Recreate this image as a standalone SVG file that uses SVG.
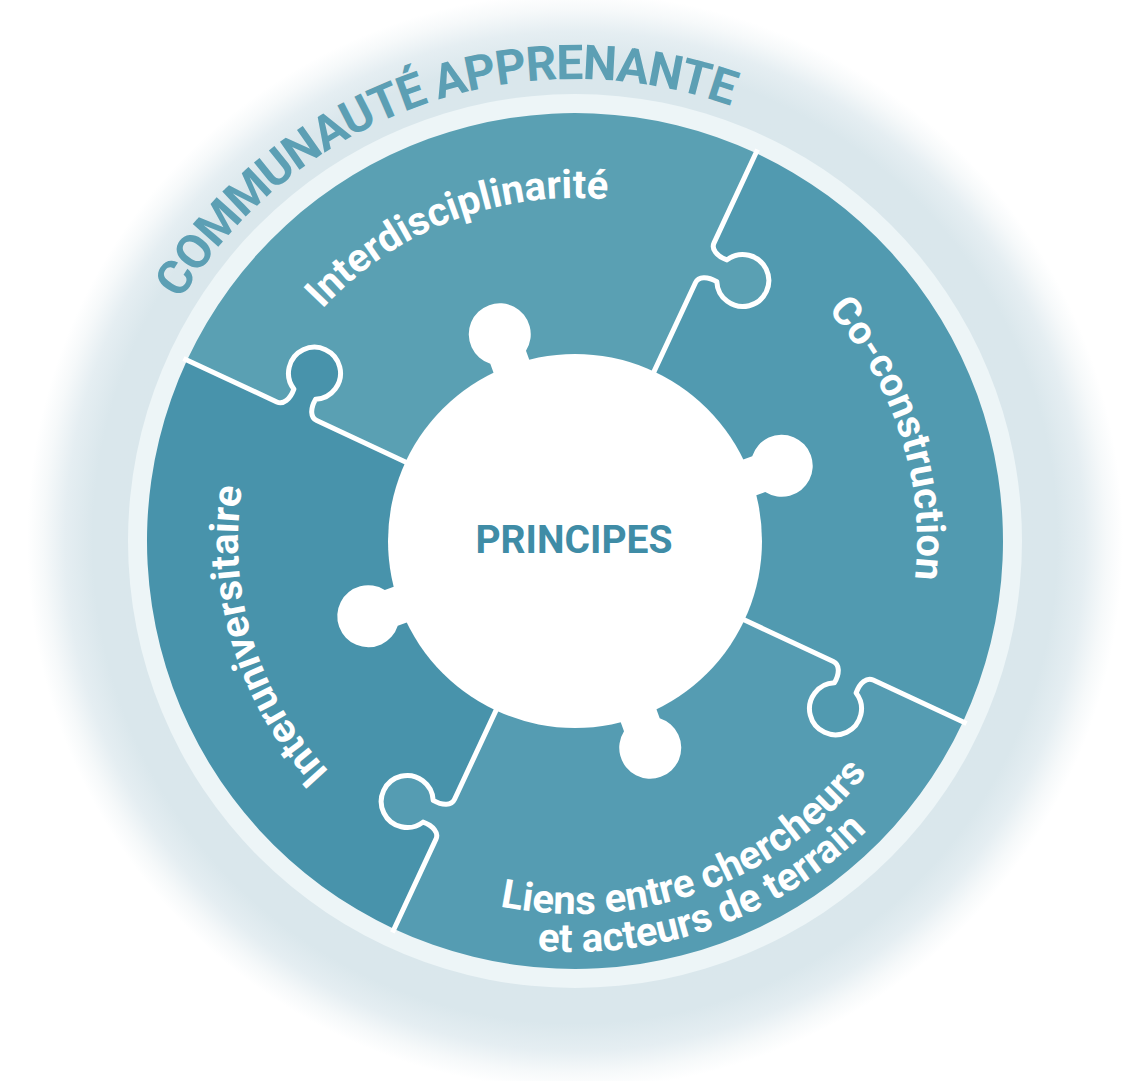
<svg xmlns="http://www.w3.org/2000/svg" width="1145" height="1081" viewBox="0 0 1145 1081">
<defs>
<style>
.lbl{font-family:Roboto,"Liberation Sans",sans-serif;font-weight:700;font-size:40px;fill:#ffffff}
.ring{font-family:Roboto,"Liberation Sans",sans-serif;font-weight:700;font-size:48px;fill:#5c9fb4;letter-spacing:-1.2px}
.div{fill:none;stroke:#ffffff;stroke-width:5;stroke-linejoin:round}
</style>
<radialGradient id="glow" gradientUnits="userSpaceOnUse" cx="575" cy="541" r="548">
<stop offset="0" stop-color="#d9e7ec"/>
<stop offset="0.88" stop-color="#dae7ec"/>
<stop offset="0.93" stop-color="#e5eef2"/>
<stop offset="0.97" stop-color="#f6f9fa"/>
<stop offset="1" stop-color="#ffffff"/>
</radialGradient>
<path id="piece" d="M0,0 L185,0 H285 C292,0 296,8 295,18.9 A26,26 0 1 0 319,18.9 C318,8 322,0 329,0 H428 A428,428 0 0 1 0,428 L0,329 C0,322 -8,318 -18.9,319 A26,26 0 1 1 -18.9,295 C-8,296 0,292 0,285 L0,0 Z"/>
<path id="divider" d="M180,0 H285 C292,0 296,8 295,18.9 A26,26 0 1 0 319,18.9 C318,8 322,0 329,0 H432"/>
<path id="knob" d="M175,-19 L195.5,-19 A31,31 0 1 1 195.5,19 L175,19 Z"/>
<path id="cw343" d="M232,541 A343,343 0 1 1 918,541 A343,343 0 1 1 232,541"/>
<path id="cw342" d="M233,541 A342,342 0 1 1 917,541 A342,342 0 1 1 233,541"/>
<path id="cw337" d="M238,541 A337,337 0 1 1 912,541 A337,337 0 1 1 238,541"/>
<path id="cw462" d="M113,541 A462,462 0 1 1 1037,541 A462,462 0 1 1 113,541"/>
<path id="ccw373" d="M948,541 A373,373 0 1 0 202,541 A373,373 0 1 0 948,541"/>
<path id="ccw411" d="M986,541 A411,411 0 1 0 164,541 A411,411 0 1 0 986,541"/>
</defs>
<rect width="1145" height="1081" fill="#ffffff"/>
<g id="node-communaute">
<circle cx="575" cy="541" r="548" fill="url(#glow)"/>
<circle cx="575" cy="541" r="447" fill="#edf5f7"/>
<text class="ring" transform="rotate(250.5 575 541)"><textPath href="#cw462" startOffset="50%" text-anchor="middle">COMMUNAUTÉ APPRENANTE</textPath></text>
</g>
<g id="node-interdisciplinarite">
<use href="#piece" transform="translate(575 541) rotate(205)" fill="#5aa0b3"/>
</g>
<g id="node-coconstruction">
<use href="#piece" transform="translate(575 541) rotate(295)" fill="#519ab0"/>
</g>
<g id="node-liens">
<use href="#piece" transform="translate(575 541) rotate(25)" fill="#559cb2"/>
</g>
<g id="node-interuniversitaire">
<use href="#piece" transform="translate(575 541) rotate(115)" fill="#4893ab"/>
</g>
<g id="dividers">
<use href="#divider" class="div" transform="translate(575 541) rotate(205)"/>
<use href="#divider" class="div" transform="translate(575 541) rotate(295)"/>
<use href="#divider" class="div" transform="translate(575 541) rotate(25)"/>
<use href="#divider" class="div" transform="translate(575 541) rotate(115)"/>
</g>
<g id="node-principes">
<circle cx="575" cy="541" r="187" fill="#ffffff"/>
<use href="#knob" transform="translate(575 541) rotate(250)" fill="#ffffff"/>
<use href="#knob" transform="translate(575 541) rotate(340)" fill="#ffffff"/>
<use href="#knob" transform="translate(575 541) rotate(70)" fill="#ffffff"/>
<use href="#knob" transform="translate(575 541) rotate(160)" fill="#ffffff"/>
<text x="574" y="553" text-anchor="middle" style="font-family:Roboto,'Liberation Sans',sans-serif;font-weight:700;font-size:39px;fill:#3f8ca6">PRINCIPES</text>
</g>
<g id="labels">
<text class="lbl" transform="rotate(249 575 541)"><textPath href="#cw343" startOffset="50%" text-anchor="middle">Interdisciplinarité</textPath></text>
<text class="lbl" transform="rotate(342 575 541)"><textPath href="#cw342" startOffset="50%" text-anchor="middle">Co-construction</textPath></text>
<text class="lbl" transform="rotate(163 575 541)"><textPath href="#cw337" startOffset="50%" text-anchor="middle">Interuniversitaire</textPath></text>
<text class="lbl" transform="rotate(-110 575 541)"><textPath href="#ccw373" startOffset="50%" text-anchor="middle">Liens entre chercheurs</textPath></text>
<text class="lbl" transform="rotate(-110 575 541)"><textPath href="#ccw411" startOffset="50%" text-anchor="middle">et acteurs de terrain</textPath></text>
</g>
</svg>
